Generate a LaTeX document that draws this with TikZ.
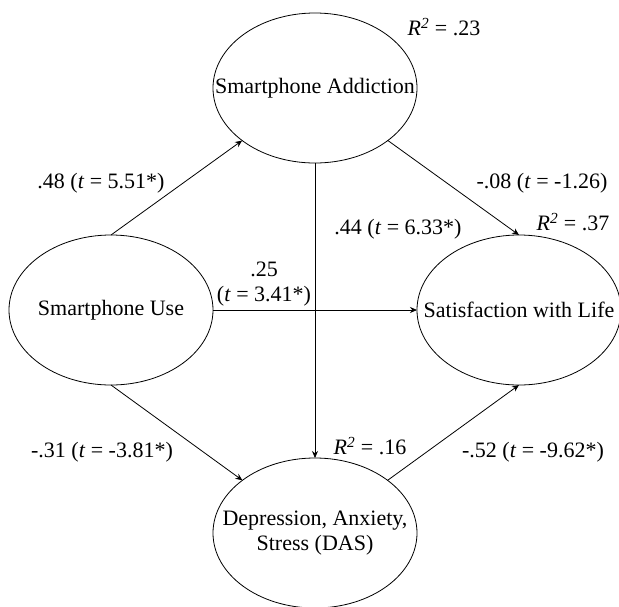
\documentclass[tikz,border=0pt]{standalone}
\usepackage{fontspec}
\setmainfont{Liberation Serif}
\usetikzlibrary{shapes.geometric,arrows.meta}
\tikzset{
  latent/.style={ellipse, draw, line width=0.8pt, minimum width=204pt, minimum height=150pt, inner sep=0pt, outer sep=0pt},
  path/.style={line width=0.8pt, -{Stealth[length=7pt,width=6pt]}},
  lbl/.style={inner sep=0pt, align=center}
}
\newcommand{\Rsq}{\textit{R}\textsuperscript{\textit{2}}}
\newcommand{\zw}[1]{\makebox[0pt]{#1}}
\begin{document}
\begin{tikzpicture}[x=1pt,y=-1pt,font=\fontsize{22}{25}\selectfont]
\useasboundingbox (0,0) rectangle (619,606);
\node[latent] (SA) at (315,88) {\zw{Smartphone Addiction}};
\node[latent] (SU) at (111,310) {\zw{Smartphone Use}};
\node[latent] (SWL) at (519,310) {\zw{Satisfaction with Life}};
\node[latent] (DAS) at (315,533) {\zw{\shortstack{Depression, Anxiety,\\[2pt]Stress (DAS)}}};

\draw[path] (SU.north) -- (SA);
\draw[path] (SA) -- (SWL.north);
\draw[path] (SU.south) -- (DAS);
\draw[path] (DAS) -- (SWL.south);
\draw[path] (SU.east) -- (SWL.west);
\draw[path] (SA.south) -- (DAS.north);

\node[lbl] (l1) at (101,183) {.48 (\textit{t} = 5.51*)};
\node[lbl] (l2) at (542,183) {-.08 (\textit{t} = -1.26)};
\node[lbl] (l3) at (398,229) {.44 (\textit{t} = 6.33*)};
\node[lbl] (l4) at (264,284.5) {.25\\(\textit{t} = 3.41*)};
\node[lbl] (l5) at (102,452) {-.31 (\textit{t} = -3.81*)};
\node[lbl] (l6) at (533,452) {-.52 (\textit{t} = -9.62*)};
\node[lbl] (r1) at (444,27) {\Rsq{} = .23};
\node[lbl] (r2) at (573,222) {\Rsq{} = .37};
\node[lbl] (r3) at (370,446) {\Rsq{} = .16};
\end{tikzpicture}
\end{document}
